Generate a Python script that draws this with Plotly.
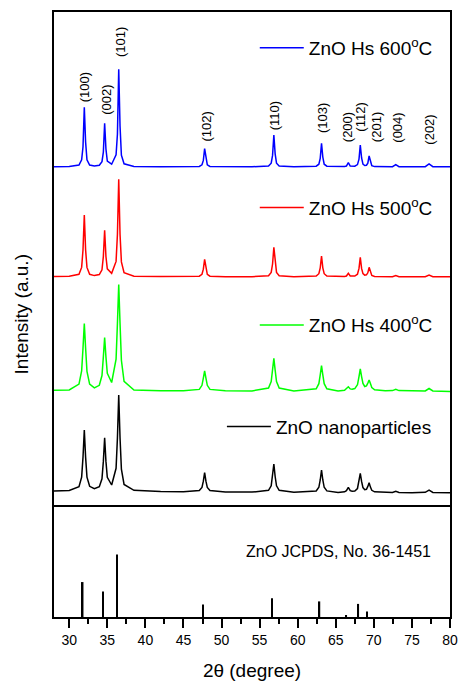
import plotly.graph_objects as go

FONT = "Arial, Liberation Sans, sans-serif"

# 2-theta sampling points (degree)
two_theta = [
    28.0, 30.0,
    31.28, 31.63, 31.81, 31.98, 32.15, 32.33, 32.68,
    33.30,
    33.95, 34.30, 34.48, 34.65, 34.82, 35.00,
    35.57,
    36.15, 36.33, 36.50, 36.67, 36.85, 37.20,
    38.50, 42.00, 45.00,
    47.08, 47.43, 47.61, 47.78, 47.95, 48.13, 48.48,
    50.50, 54.00,
    56.17, 56.52, 56.70, 56.87, 57.04, 57.22, 57.57,
    59.50,
    62.43, 62.78, 62.96, 63.13, 63.30, 63.48, 63.83,
    65.30,
    66.15, 66.40, 66.65, 66.90, 67.15,
    67.50,
    67.85, 68.05, 68.22, 68.39, 68.57,
    68.80,
    69.03, 69.21, 69.38, 69.55, 69.73, 70.10,
    71.50,
    72.45, 72.88, 73.30,
    75.00,
    76.75, 77.25, 77.75,
    80.00,
]

# intensities (a.u.) of each pattern above its own baseline
int_600 = [
    0.3, 0.5,
    2.0, 7.2, 20.2, 59.7, 25.0, 7.2, 2.0,
    1.0,
    1.7, 5.3, 14.8, 43.7, 18.0, 6.0,
    2.8,
    12.1, 33.0, 97.7, 41.0, 11.8, 3.2,
    0.5, 0.3, 0.3,
    0.6, 2.2, 6.6, 18.3, 7.6, 2.2, 0.6,
    0.2, 0.2,
    1.0, 3.8, 11.6, 32.0, 13.2, 3.8, 1.0,
    0.2,
    0.8, 2.8, 8.7, 23.7, 9.9, 2.8, 0.8,
    0.2,
    0.5, 0.9, 4.3, 0.9, 0.7,
    0.8,
    2.4, 7.9, 22.0, 9.0, 2.9,
    1.5,
    1.8, 3.9, 11.0, 4.4, 1.3, 0.4,
    0.2,
    0.3, 2.3, 0.3,
    0.2,
    0.3, 3.0, 0.3,
    0.2,
]
int_500 = [
    0.5, 0.8,
    2.7, 9.6, 27.2, 62.0, 27.2, 9.6, 2.7,
    1.4,
    2.4, 7.2, 20.5, 46.7, 20.5, 8.2,
    3.7,
    15.6, 42.8, 97.7, 42.8, 15.1, 4.3,
    0.7, 0.4, 0.4,
    0.8, 2.7, 7.8, 17.7, 7.8, 2.7, 0.8,
    0.3, 0.3,
    1.3, 4.6, 13.0, 29.7, 13.0, 4.6, 1.3,
    0.3,
    0.9, 3.3, 9.2, 21.0, 9.2, 3.3, 0.9,
    0.3,
    0.6, 1.0, 3.7, 1.0, 1.0,
    1.0,
    2.8, 8.6, 19.7, 8.6, 3.4,
    1.9,
    2.2, 4.2, 9.7, 4.2, 1.5, 0.5,
    0.3,
    0.3, 1.5, 0.3,
    0.3,
    0.3, 2.0, 0.3,
    0.3,
]
int_400 = [
    1.2, 1.6,
    7.4, 20.5, 43.5, 68.0, 43.5, 20.2, 7.3,
    3.6,
    6.2, 16.0, 34.6, 54.0, 34.6, 18.1,
    9.0,
    32.4, 68.2, 107.0, 68.2, 31.2, 10.1,
    1.5, 0.8, 0.8,
    2.1, 6.2, 13.3, 20.5, 13.3, 6.2, 2.1,
    0.7, 0.6,
    3.4, 10.0, 21.3, 33.2, 21.3, 10.0, 3.4,
    0.6,
    2.7, 7.8, 16.6, 25.8, 16.6, 7.8, 2.7,
    0.6,
    1.3, 2.6, 4.8, 2.6, 2.3,
    2.9,
    6.7, 14.9, 22.5, 14.9, 8.0,
    5.0,
    5.6, 8.4, 11.5, 7.9, 4.0, 1.7,
    0.7,
    0.9, 2.2, 0.9,
    0.5,
    0.6, 3.0, 0.6,
    0.0,
]
int_np = [
    2.0, 2.5,
    6.2, 15.9, 35.9, 63.0, 35.9, 15.9, 6.7,
    4.3,
    6.3, 14.2, 31.6, 55.3, 31.6, 15.7,
    8.0,
    24.7, 55.3, 98.0, 55.3, 23.9, 8.5,
    2.7, 1.4, 1.2,
    2.4, 5.5, 11.8, 20.3, 11.8, 5.5, 2.4,
    1.0, 0.9,
    2.7, 7.2, 16.5, 29.0, 16.5, 7.2, 2.7,
    0.7,
    2.1, 5.7, 13.0, 23.0, 13.0, 5.7, 2.1,
    0.5,
    1.2, 2.4, 5.7, 2.4, 1.8,
    2.0,
    4.5, 11.2, 19.7, 11.6, 5.4,
    3.3,
    3.7, 6.6, 10.3, 5.9, 2.7, 1.2,
    0.4,
    0.6, 1.8, 0.6,
    0.3,
    0.7, 2.8, 0.6,
    0.2,
]

series_names = ["ZnO nanoparticles", "ZnO Hs 400<sup>o</sup>C",
                "ZnO Hs 500<sup>o</sup>C", "ZnO Hs 600<sup>o</sup>C"]
series_values = [int_np, int_400, int_500, int_600]
series_offsets = [12, 113.5, 228, 338]
series_colors = ["#000000", "#00FF00", "#FF0000", "#0000FF"]

# JCPDS 36-1451 reference lines
jcpds_pos = [31.77, 34.42, 36.25, 47.54, 56.60, 62.86, 66.38, 67.96, 69.10]
jcpds_int = [56, 41, 100, 20, 30, 25, 3, 21, 9]

# Miller index labels
hkl_labels = ["(100)", "(002)", "(101)", "(102)", "(110)", "(103)",
              "(200)", "(112)", "(201)", "(004)", "(202)"]
hkl_x = [31.97, 34.80, 36.67, 47.90, 57.00, 63.20, 66.50, 68.20, 70.30, 73.00, 77.20]
hkl_y = [401, 388, 446, 361, 373, 370, 361, 371, 361, 360, 358]

# legend placement (paper coords: left edge x, centre y)
legend_pos = [(0.424, 0.3145), (0.507, 0.4826), (0.507, 0.6765), (0.507, 0.9405)]

fig = go.Figure()

legend_ids = ["legend", "legend2", "legend3", "legend4"]
for name, vals, off, col, lg in zip(series_names, series_values, series_offsets,
                                    series_colors, legend_ids):
    fig.add_trace(go.Scatter(
        x=two_theta, y=[v + off for v in vals], mode="lines", name=name,
        line=dict(color=col, width=1.5), xaxis="x", yaxis="y", legend=lg,
    ))

fig.add_trace(go.Bar(
    x=jcpds_pos, y=jcpds_int, width=0.2, marker=dict(color="black", line=dict(width=0)),
    xaxis="x2", yaxis="y2", showlegend=False,
))

annotations = []
for lab, lx, ly in zip(hkl_labels, hkl_x, hkl_y):
    annotations.append(dict(
        x=lx, y=ly, xref="x", yref="y", text=lab, showarrow=False, textangle=-90,
        xanchor="center", yanchor="bottom", font=dict(size=13, family=FONT, color="black"),
    ))
annotations.append(dict(
    x=77.8, y=104.6, xref="x2", yref="y2", text="ZnO JCPDS, No. 36-1451", showarrow=False,
    xanchor="right", yanchor="middle", font=dict(size=16, family=FONT, color="black"),
))
annotations.append(dict(
    x=-0.081, y=0.5, xref="paper", yref="paper", text="Intensity (a.u.)", showarrow=False,
    textangle=-90, xanchor="center", yanchor="middle",
    font=dict(size=19, family=FONT, color="black"),
))

split = 112 / 605
frame = dict(showline=True, linecolor="black", linewidth=1.5,
             showgrid=False, zeroline=False, automargin=False)

def lg(pos):
    return dict(x=pos[0], y=pos[1], xanchor="left", yanchor="middle",
                bgcolor="rgba(0,0,0,0)", borderwidth=0, itemwidth=44,
                font=dict(size=19, family=FONT, color="black"))

fig.update_layout(
    width=460, height=684,
    margin=dict(l=54, r=10, t=12, b=67),
    paper_bgcolor="white", plot_bgcolor="white",
    font=dict(family=FONT, color="black"),
    xaxis=dict(range=[28, 80], domain=[0, 1], anchor="y", showticklabels=False, ticks="",
               matches="x2", mirror=True, **frame),
    yaxis=dict(range=[0, 493], domain=[split, 1], anchor="x", showticklabels=False,
               ticks="", mirror=True, **frame),
    xaxis2=dict(range=[28, 80], domain=[0, 1], anchor="y2", tick0=30, dtick=5,
                ticks="outside", ticklen=9, tickwidth=1.5, tickcolor="black",
                tickfont=dict(size=14, family=FONT, color="black"),
                minor=dict(dtick=2.5, tick0=30, ticks="outside", ticklen=5, tickwidth=1.5,
                           tickcolor="black"),
                title=dict(text="2θ (degree)", font=dict(size=19, family=FONT, color="black"),
                           standoff=17),
                mirror=False, **frame),
    yaxis2=dict(range=[0, 179.5], domain=[0, split], anchor="x2", showticklabels=False,
                ticks="", mirror=True, **frame),
    barmode="overlay",
    annotations=annotations,
    legend=lg(legend_pos[0]),
    legend2=lg(legend_pos[1]),
    legend3=lg(legend_pos[2]),
    legend4=lg(legend_pos[3]),
)

fig.write_html("out.html", config={"displayModeBar": False},
               post_script="document.body.style.margin='0';")
